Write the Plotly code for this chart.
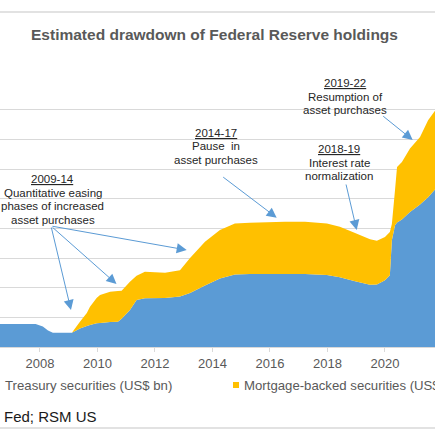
import plotly.graph_objects as go

# Fed balance sheet, US$ bn
years = [2006.5, 2007.85, 2008.1, 2008.28, 2008.45, 2009.11, 2009.39, 2009.63, 2009.74,
         2009.97, 2010.09, 2010.44, 2010.71, 2010.84, 2011.13, 2011.36, 2011.65, 2012.35,
         2012.87, 2013.22, 2013.74, 2014.26, 2014.78, 2015.30, 2016.52, 2017.22, 2017.98,
         2018.43, 2018.96, 2019.48, 2019.72, 2020.00, 2020.17, 2020.24, 2020.35, 2020.42,
         2020.59, 2020.87, 2021.22, 2021.50, 2021.76]
treasury = [775, 775, 690, 560, 480, 480, 620, 707, 740, 798, 810, 840, 852, 950, 1246,
            1582, 1640, 1650, 1700, 1820, 2070, 2310, 2440, 2460, 2460, 2460, 2430, 2350,
            2220, 2100, 2110, 2250, 2420, 3600, 4100, 4200, 4300, 4550, 4800, 5050, 5330]
mbs = [0, 0, 0, 0, 0, 0, 232, 443, 617, 852, 941, 1022, 1038, 946, 953, 818, 895, 850,
       890, 1180, 1480, 1630, 1725, 1725, 1760, 1760, 1735, 1700, 1620, 1530, 1470, 1460,
       1460, 550, 1200, 1870, 1940, 2140, 2280, 2590, 2660]

tick_years = [2008, 2010, 2012, 2014, 2016, 2018, 2020, 2022]

W, H = 435, 435
TOP, BOTTOM = 80, 347   # pixel rows of plot top / zero line

def dx(p):
    return p / W

def dy(p):
    return (BOTTOM - p) / (BOTTOM - TOP)

FONT = "Liberation Sans, Arial, sans-serif"

fig = go.Figure()
fig.add_trace(go.Scatter(x=years, y=treasury, name="Treasury securities (US$ bn)",
                         stackgroup="one", mode="none", fillcolor="#5B9BD5"))
fig.add_trace(go.Scatter(x=years, y=mbs, name="Mortgage-backed securities (US$ bn)",
                         stackgroup="one", mode="none", fillcolor="#FFC000"))

# event labels: (center x px, first line y px, lines)
labels = [
    (52.5, 179, ["<u>2009-14</u>", "Quantitative easing", "phases of increased", "asset purchases"]),
    (215.5, 132.7, ["<u>2014-17</u>", "Pause&nbsp; in", "asset purchases"]),
    (339, 149, ["<u>2018-19</u>", "Interest rate", "normalization"]),
    (345, 83, ["<u>2019-22</u>", "Resumption of", "asset purchases"]),
]
annos = []
for cx, cy, lines in labels:
    for i, t in enumerate(lines):
        annos.append(dict(x=dx(cx), y=dy(cy + i * 13.5), xref="x domain", yref="y domain",
                          text=t, showarrow=False, xanchor="center", yanchor="middle",
                          font=dict(family=FONT, size=11.5, color="#262626")))

# arrows: tail (px) -> tip (px)
arrows = [
    ((51, 226), (71, 310)),
    ((51, 226), (116.5, 284)),
    ((51, 226), (186.7, 250)),
    ((221.7, 176), (276.7, 217.7)),
    ((345.7, 183), (356.7, 230)),
    ((381.7, 115), (412.7, 140)),
]
for (tx, ty), (hx, hy) in arrows:
    annos.append(dict(x=dx(hx), y=dy(hy), ax=dx(tx), ay=dy(ty),
                      xref="x domain", yref="y domain", axref="x domain", ayref="y domain",
                      text="", showarrow=True, arrowhead=2, arrowsize=2, arrowwidth=1,
                      arrowcolor="#5B9BD5"))

# legend + source as text (chart is cropped at both sides)
annos.append(dict(x=dx(3), y=dy(385), xref="x domain", yref="y domain",
                  text="Treasury securities (US$ bn)", showarrow=False,
                  xanchor="left", yanchor="middle",
                  font=dict(family=FONT, size=13.2, color="#595959")))
annos.append(dict(x=dx(242), y=dy(385), xref="x domain", yref="y domain",
                  text="Mortgage-backed securities (US$ bn)", showarrow=False,
                  xanchor="left", yanchor="middle",
                  font=dict(family=FONT, size=13.2, color="#595959")))
annos.append(dict(x=dx(2), y=dy(416), xref="x domain", yref="y domain",
                  text="Fed; RSM US", showarrow=False, xanchor="left", yanchor="middle",
                  font=dict(family=FONT, size=15, color="#1a1a1a")))

shapes = [
    dict(type="rect", xref="paper", yref="paper", x0=dx(233), x1=dx(239),
         y0=dy(388), y1=dy(382), fillcolor="#FFC000", line=dict(width=0)),
    dict(type="line", xref="paper", yref="paper", x0=0, x1=1, y0=dy(12), y1=dy(12),
         line=dict(color="#D9D9D9", width=1.5)),
    dict(type="line", xref="paper", yref="paper", x0=0, x1=1, y0=dy(428), y1=dy(428),
         line=dict(color="#D9D9D9", width=1.5)),
]

fig.update_layout(
    width=W, height=H,
    margin=dict(l=0, r=0, t=TOP, b=H - BOTTOM, autoexpand=False),
    paper_bgcolor="white", plot_bgcolor="white",
    showlegend=False,
    title=dict(text="<b>Estimated drawdown of Federal Reserve holdings</b>",
               x=214.5 / W, xref="container", xanchor="center",
               y=1 - 35 / H, yref="container", yanchor="middle",
               font=dict(family=FONT, size=15.5, color="#595959")),
    annotations=annos,
    shapes=shapes,
)
fig.update_xaxes(range=[2006.61, 2021.74], tickvals=tick_years,
                 ticktext=[str(y) for y in tick_years],
                 showgrid=False, zeroline=False, showline=True, linecolor="#D9D9D9",
                 ticks="outside", ticklen=4, tickcolor="#D9D9D9", automargin=False,
                 tickfont=dict(family=FONT, size=13, color="#595959"))
fig.update_yaxes(range=[0, 9000], dtick=1000, showticklabels=False, automargin=False,
                 showgrid=True, gridcolor="#D9D9D9", gridwidth=1, zeroline=False)

# page body has a default 8px margin; drop it so the figure sits at the window corner
fig.write_html("out.html", config={"displayModeBar": False},
               post_script="document.body.style.margin='0';")
